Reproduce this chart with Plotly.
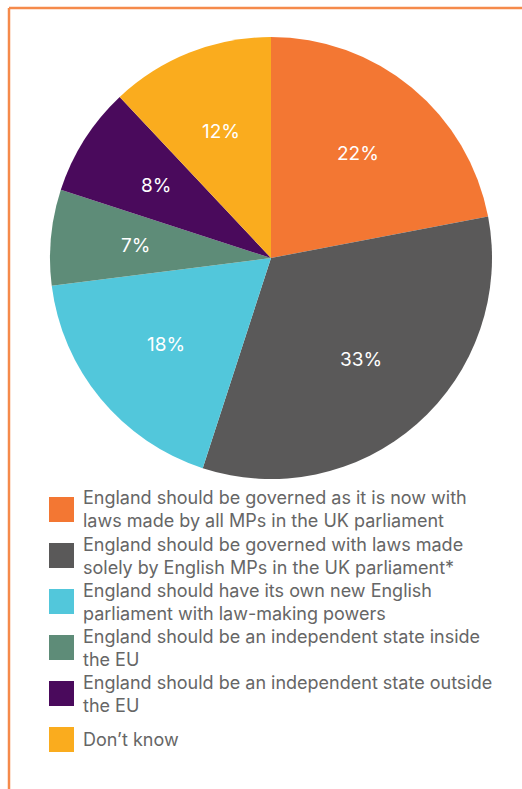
import math
import plotly.graph_objects as go

# Survey responses on how England should be governed
categories = [
    "England should be governed as it is now with<br>laws made by all MPs in the UK parliament",
    "England should be governed with laws made<br>solely by English MPs in the UK parliament*",
    "England should have its own new English<br>parliament with law-making powers",
    "England should be an independent state inside<br>the EU",
    "England should be an independent state outside<br>the EU",
    "Don\u2019t know",
]
shares = [22, 33, 18, 7, 8, 12]
colors = ["#F37733", "#5A5959", "#52C7DB", "#5E8C78", "#4A0A5C", "#FAAC1E"]

W, H = 522, 789
LABEL_FONT = "Inter, Liberation Sans, Arial, sans-serif"
LEGEND_FONT = "Inter, Liberation Sans, Arial, sans-serif"
FRAME = "#F58A4B"
TEXT_GREY = "#666666"

# pie placement (pixels)
cx, cy, r = 271, 258, 221
label_radius = 0.615  # fraction of the radius where percentage labels sit

fig = go.Figure(
    go.Pie(
        labels=[c.replace("<br>", " ") for c in categories],
        values=shares,
        sort=False,
        direction="clockwise",
        rotation=0,
        marker=dict(colors=colors, line=dict(width=0)),
        textinfo="none",
        hoverinfo="label+percent",
        showlegend=False,
        domain=dict(
            x=[(cx - r) / W, (cx + r) / W],
            y=[1 - (cy + r) / H, 1 - (cy - r) / H],
        ),
    )
)

shapes = [
    # frame: top and left rules
    dict(type="line", xref="paper", yref="paper",
         x0=9 / W, x1=1, y0=1 - 8 / H, y1=1 - 8 / H,
         line=dict(color=FRAME, width=2.5)),
    dict(type="line", xref="paper", yref="paper",
         x0=9 / W, x1=9 / W, y0=0, y1=1 - 8 / H,
         line=dict(color=FRAME, width=2.5)),
]
annotations = []

# percentage labels at each slice's mid-angle (clockwise from 12 o'clock)
total = sum(shares)
cum = 0
for v in shares:
    mid = (cum + v / 2) / total * 2 * math.pi
    cum += v
    px = cx + label_radius * r * math.sin(mid)
    py = cy - label_radius * r * math.cos(mid)
    annotations.append(dict(
        xref="paper", yref="paper",
        x=px / W, y=1 - py / H,
        xanchor="center", yanchor="middle",
        text=f"{v}%", showarrow=False,
        font=dict(family=LABEL_FONT, size=19, color="white"),
    ))

# custom legend: square swatch with its (wrapped) label beside it
leg_top, leg_step, sw = 497, 46, 25
sw_x, txt_x = 49, 82
for i, (cat, col) in enumerate(zip(categories, colors)):
    top = leg_top + leg_step * i
    shapes.append(dict(
        type="rect", xref="paper", yref="paper",
        x0=sw_x / W, x1=(sw_x + sw) / W,
        y0=1 - (top + sw) / H, y1=1 - top / H,
        fillcolor=col, line=dict(width=0),
    ))
    annotations.append(dict(
        xref="paper", yref="paper",
        x=txt_x / W, y=1 - (top + 12.5) / H,
        xanchor="left", yanchor="middle", align="left",
        text=cat, showarrow=False, borderpad=0,
        font=dict(family=LEGEND_FONT, size=18, color=TEXT_GREY),
    ))

fig.update_layout(
    width=W, height=H,
    margin=dict(l=0, r=0, t=0, b=0),
    paper_bgcolor="white",
    plot_bgcolor="white",
    shapes=shapes,
    annotations=annotations,
)

fig.write_html("out.html")
